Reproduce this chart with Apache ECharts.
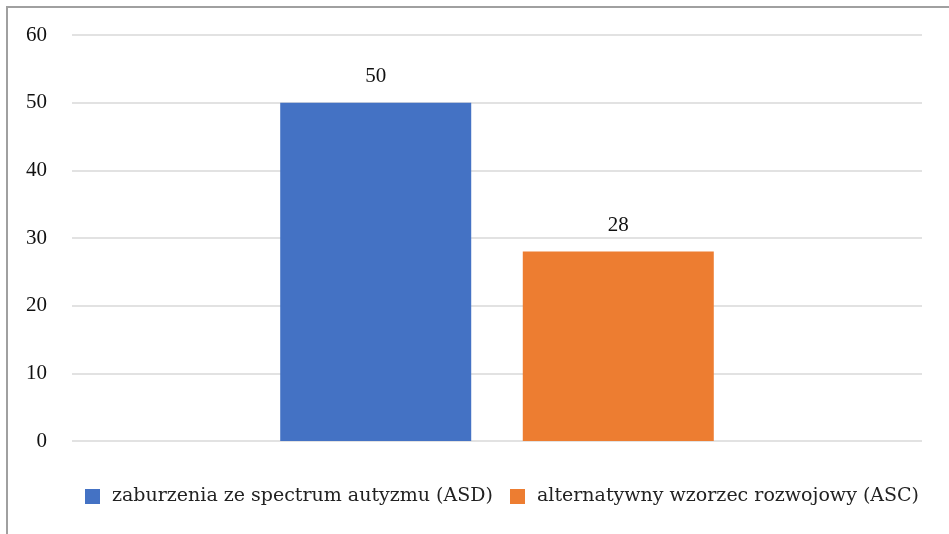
<!DOCTYPE html>
<html><head><meta charset="utf-8">
<script src="https://cdn.jsdelivr.net/npm/echarts@6/dist/echarts.min.js"></script>
<style>html,body{margin:0;padding:0;background:#fff}#c{width:949px;height:534px}
#frame{position:absolute;left:6px;top:6px;width:960px;height:560px;border:2px solid #a0a0a0;box-sizing:border-box;pointer-events:none}</style>
</head><body><div id="c"></div><div id="frame"></div>
<script>
const categories = [''];
const seriesNames = ['zaburzenia ze spectrum autyzmu (ASD)', 'alternatywny wzorzec rozwojowy (ASC)'];
const asdValues = [50];
const ascValues = [28];
const colors = ['#4472c4', '#ed7d31'];
const font = '"Liberation Serif", serif';
const legendFont = '"DejaVu Serif", "Liberation Serif", serif';
const legendBase = {
  top: 487, padding: 0, itemWidth: 15, itemHeight: 15, icon: 'rect',
  textStyle: {fontFamily: legendFont, fontSize: 19, color: '#222', padding: [0, 0, 0, 7]}
};
const chart = echarts.init(document.getElementById('c'));
chart.setOption({
  animation: false,
  textStyle: {fontFamily: font},
  grid: {left: 72, right: 27, top: 35, bottom: 93, containLabel: false},
  legend: [
    Object.assign({}, legendBase, {left: 85, data: [seriesNames[0]]}),
    Object.assign({}, legendBase, {left: 510, data: [seriesNames[1]]})
  ],
  xAxis: {type: 'category', data: categories, axisLine: {show: false}, axisTick: {show: false}, axisLabel: {show: false}},
  yAxis: {
    type: 'value', min: 0, max: 60, interval: 10,
    axisLine: {show: false}, axisTick: {show: false},
    axisLabel: {fontFamily: font, fontSize: 21, color: '#111', margin: 25},
    splitLine: {lineStyle: {color: '#d9d9d9', width: 1.5}}
  },
  series: [
    {name: seriesNames[0], type: 'bar', data: asdValues, barWidth: 191, barGap: '27%', itemStyle: {color: colors[0]},
     label: {show: true, position: 'top', distance: 16, fontFamily: font, fontSize: 21, color: '#111'}},
    {name: seriesNames[1], type: 'bar', data: ascValues, barWidth: 191, itemStyle: {color: colors[1]},
     label: {show: true, position: 'top', distance: 16, fontFamily: font, fontSize: 21, color: '#111'}}
  ]
});
</script></body></html>
